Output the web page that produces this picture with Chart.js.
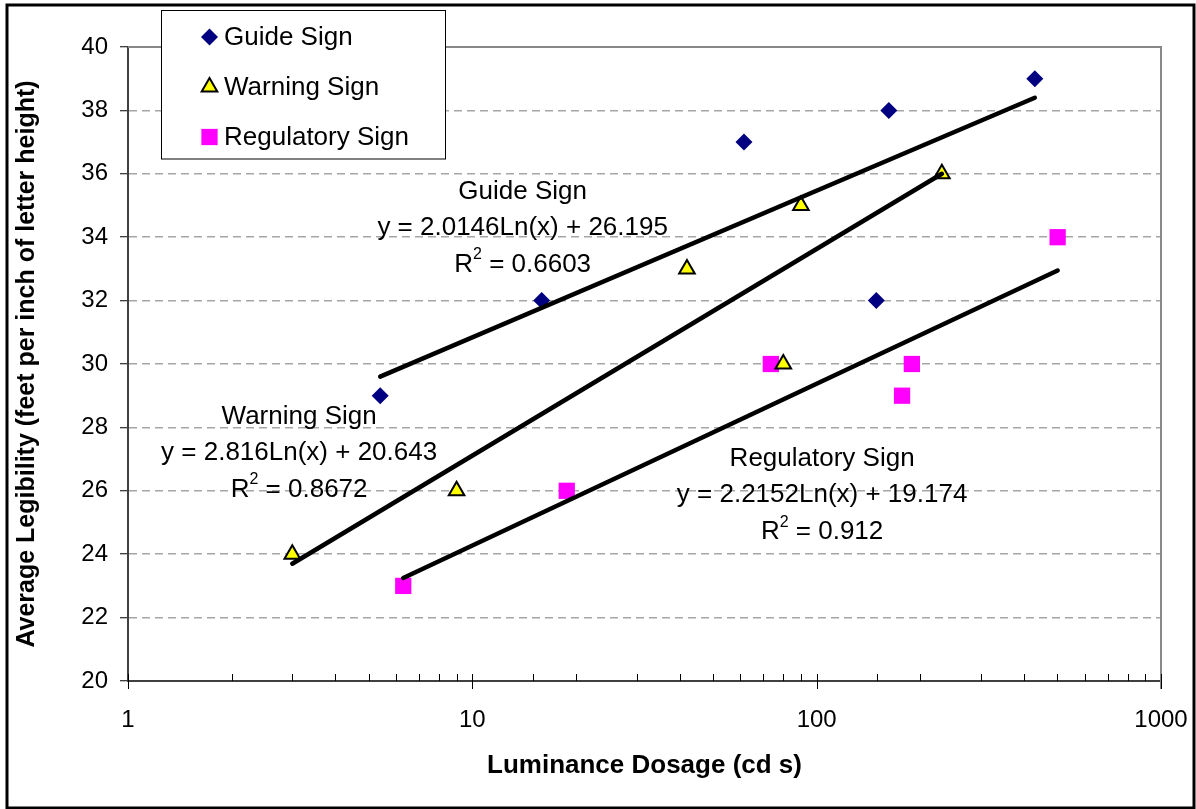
<!DOCTYPE html>
<html>
<head>
<meta charset="utf-8">
<script src="https://cdn.jsdelivr.net/npm/chart.js@4/dist/chart.umd.min.js"></script>
<style>
  html, body { margin: 0; padding: 0; background: #fff; }
  #wrap { width: 1196px; height: 809px; }
</style>
</head>
<body>
<div id="wrap"><canvas id="grafico" width="1196" height="809"></canvas></div>
<script>
// dados
const guideX = [5.4, 15.9, 61.5, 149, 162, 430];
const guideY = [29, 32, 37, 32, 38, 39];
const warningX = [3, 9, 42, 80, 90, 231];
const warningY = [24, 26, 33, 30, 35, 36];
const regulatoryX = [6.3, 18.8, 73.6, 177, 189, 501];
const regulatoryY = [23, 26, 30, 29, 30, 34];

// extremos das linhas de tendência
const guideFitX = [5.4, 430];
const guideFitY = [29.6, 38.4];
const warningFitX = [3, 231];
const warningFitY = [23.7, 36.0];
const regulatoryFitX = [6.3, 501];
const regulatoryFitY = [23.25, 32.95];

const seriesNames = ["Guide Sign", "Warning Sign", "Regulatory Sign"];
const equations = ["y = 2.0146Ln(x) + 26.195", "y = 2.816Ln(x) + 20.643", "y = 2.2152Ln(x) + 19.174"];
const rSquared = ["0.6603", "0.8672", "0.912"];
const xLabeled = [1, 10, 100, 1000];

const FONT = "Arial, 'Liberation Sans', sans-serif";

const pares = (xs, ys) => xs.map((x, i) => ({ x: x, y: ys[i] }));

// onde ficam os rótulos das equações (coordenadas de dados)
const rotulos = [
  { serie: 0, x: 14.0, y: 34.3 },
  { serie: 1, x: 3.14, y: 27.21 },
  { serie: 2, x: 103.7, y: 25.86 },
];

function linhaTendencia(xs, ys) {
  return {
    type: "scatter",
    data: pares(xs, ys),
    showLine: true,
    borderColor: "#000",
    borderWidth: 4.5,
    borderCapStyle: "round",
    pointRadius: 0,
    order: 0,
  };
}

const moldura = {
  id: "moldura",
  beforeDraw(chart) {
    const ctx = chart.ctx;
    ctx.save();
    ctx.fillStyle = "#fff";
    ctx.fillRect(0, 0, chart.width, chart.height);
    ctx.restore();
  },
  beforeDatasetsDraw(chart) {
    const { ctx, chartArea: a } = chart;
    const xs = chart.scales.x;
    ctx.save();
    // borda cinza de cima e da direita
    ctx.strokeStyle = "#888";
    ctx.lineWidth = 2;
    ctx.beginPath();
    ctx.moveTo(a.left, a.top);
    ctx.lineTo(a.right, a.top);
    ctx.lineTo(a.right, a.bottom + 8);
    ctx.stroke();
    // marcas do eixo x
    ctx.strokeStyle = "#000";
    ctx.lineWidth = 1;
    xs.ticks.forEach((t) => {
      const px = Math.round(xs.getPixelForValue(t.value)) + 0.5;
      const major = xLabeled.includes(t.value);
      ctx.beginPath();
      ctx.moveTo(px, a.bottom - 7);
      ctx.lineTo(px, major ? a.bottom + 8 : a.bottom);
      ctx.stroke();
    });
    ctx.restore();
  },
  afterDraw(chart) {
    const ctx = chart.ctx;
    const { x: xs, y: ys } = chart.scales;
    ctx.save();

    // rótulos das equações
    ctx.fillStyle = "#000";
    ctx.textBaseline = "middle";
    rotulos.forEach((r) => {
      const cx = xs.getPixelForValue(r.x);
      const cy = ys.getPixelForValue(r.y);
      ctx.font = "26px " + FONT;
      ctx.textAlign = "center";
      ctx.fillText(seriesNames[r.serie], cx, cy - 36);
      ctx.fillText(equations[r.serie], cx, cy);
      // R² com expoente
      const resto = " = " + rSquared[r.serie];
      const wR = ctx.measureText("R").width;
      const wResto = ctx.measureText(resto).width;
      ctx.font = "16px " + FONT;
      const w2 = ctx.measureText("2").width;
      const total = wR + w2 + wResto;
      const x0 = cx - total / 2;
      const yR = cy + 37;
      ctx.textAlign = "left";
      ctx.font = "26px " + FONT;
      ctx.fillText("R", x0, yR);
      ctx.font = "16px " + FONT;
      ctx.fillText("2", x0 + wR, yR - 10);
      ctx.font = "26px " + FONT;
      ctx.fillText(resto, x0 + wR + w2, yR);
    });

    // legenda
    ctx.fillStyle = "#fff";
    ctx.fillRect(161.5, 10.5, 284, 148.5);
    ctx.strokeStyle = "#000";
    ctx.lineWidth = 1;
    ctx.strokeRect(161.5, 10.5, 284, 148.5);
    const linhas = [37, 87, 137];
    seriesNames.forEach((nome, i) => {
      const ds = chart.data.datasets[3 + i];
      ctx.save();
      ctx.fillStyle = ds.backgroundColor;
      ctx.strokeStyle = ds.borderColor || ds.backgroundColor;
      ctx.lineWidth = ds.borderWidth;
      Chart.helpers.drawPoint(ctx, {
        pointStyle: ds.pointStyle,
        radius: ds.pointRadius,
        rotation: 0,
        borderWidth: ds.borderWidth,
      }, 209.5, linhas[i]);
      ctx.restore();
      ctx.fillStyle = "#000";
      ctx.font = "26px " + FONT;
      ctx.textAlign = "left";
      ctx.textBaseline = "middle";
      ctx.fillText(nome, 224, linhas[i] + 1);
    });

    // moldura externa
    ctx.strokeStyle = "#000";
    ctx.lineWidth = 3;
    ctx.strokeRect(7, 5, 1187, 803);
    ctx.restore();
  },
};

new Chart(document.getElementById("grafico"), {
  type: "scatter",
  data: {
    datasets: [
      linhaTendencia(guideFitX, guideFitY),
      linhaTendencia(warningFitX, warningFitY),
      linhaTendencia(regulatoryFitX, regulatoryFitY),
      {
        label: seriesNames[0],
        data: pares(guideX, guideY),
        pointStyle: "rectRot",
        pointRadius: 8.5,
        backgroundColor: "#000080",
        borderColor: "#000080",
        borderWidth: 0,
        order: 1,
      },
      {
        label: seriesNames[1],
        data: pares(warningX, warningY),
        pointStyle: "triangle",
        pointRadius: 9,
        backgroundColor: "#ffff00",
        borderColor: "#000",
        borderWidth: 2,
        order: 1,
      },
      {
        label: seriesNames[2],
        data: pares(regulatoryX, regulatoryY),
        pointStyle: "rect",
        pointRadius: 11.5,
        backgroundColor: "#ff00ff",
        borderColor: "#ff00ff",
        borderWidth: 0,
        order: 1,
      },
    ],
  },
  options: {
    responsive: false,
    animation: false,
    events: [],
    layout: { padding: { top: 47, right: 35, left: 0, bottom: 0 } },
    plugins: { legend: { display: false }, tooltip: { enabled: false } },
    scales: {
      x: {
        type: "logarithmic",
        min: 1,
        max: 1000,
        afterFit: (s) => { s.height = 128; s.paddingLeft = 0; s.paddingRight = 0; },
        grid: { display: false, drawTicks: false },
        border: { display: true, color: "#404040", width: 2 },
        ticks: {
          autoSkip: false,
          maxRotation: 0,
          padding: 25,
          color: "#000",
          font: { family: FONT, size: 24 },
          callback: (v) => (xLabeled.includes(v) ? String(v) : ""),
        },
        title: {
          display: true,
          text: "Luminance Dosage (cd s)",
          color: "#000",
          font: { family: FONT, size: 26, weight: "bold" },
          padding: { top: 0, bottom: 28 },
        },
      },
      y: {
        min: 20,
        max: 40,
        afterFit: (s) => { s.width = 128; },
        grid: {
          color: (c) => (c.tick && (c.tick.value === 20 || c.tick.value === 40) ? "rgba(0,0,0,0)" : "#a6a6a6"),
          lineWidth: 1.5,
          tickColor: "#000",
          tickLength: 8,
          tickWidth: 1,
        },
        border: { display: true, color: "#404040", width: 2, dash: [8, 5] },
        ticks: {
          stepSize: 2,
          padding: 12,
          color: "#000",
          font: { family: FONT, size: 24 },
        },
        title: {
          display: true,
          text: "Average Legibility (feet per inch of letter height)",
          color: "#000",
          font: { family: FONT, size: 25, weight: "bold" },
          padding: { top: 12, bottom: 0 },
        },
      },
    },
  },
  plugins: [moldura],
});
</script>
</body>
</html>
